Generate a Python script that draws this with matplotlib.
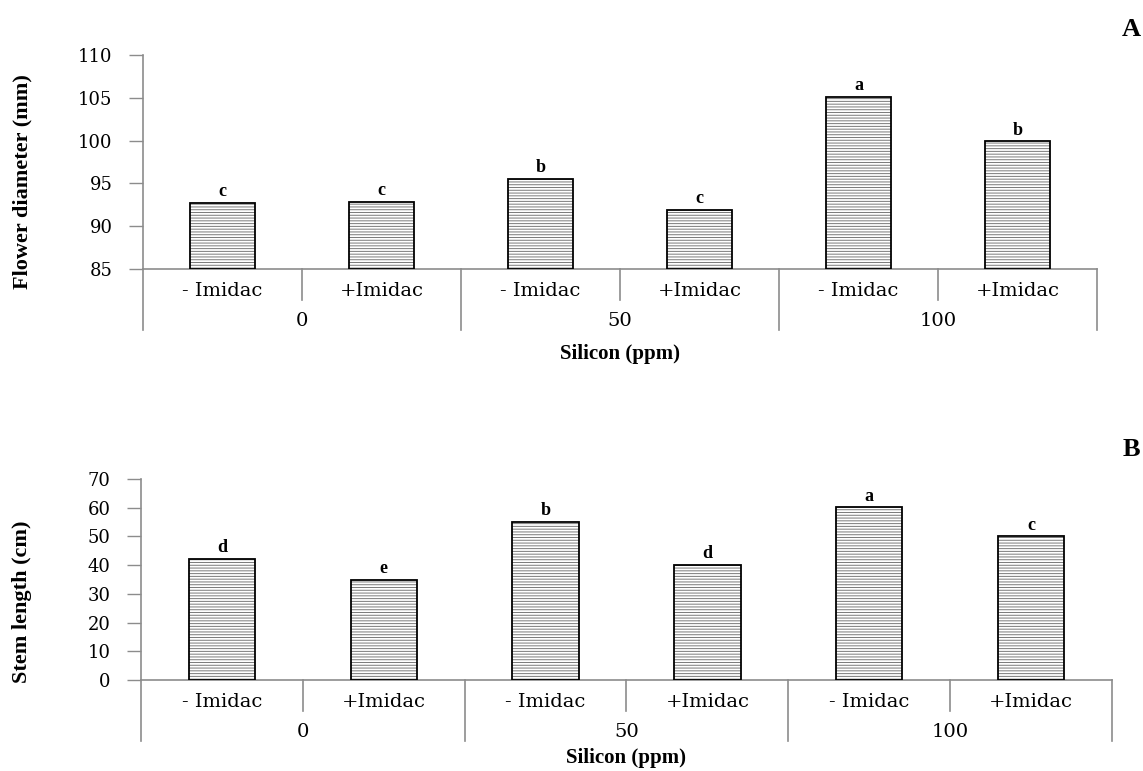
import numpy as np
import matplotlib.pyplot as plt

# data
treatments = ['- Imidac', '+Imidac', '- Imidac', '+Imidac', '- Imidac', '+Imidac']
silicon = ['0', '50', '100']
flower_diameter = [92.7, 92.8, 95.5, 91.9, 105.1, 99.9]
flower_letters = ['c', 'c', 'b', 'c', 'a', 'b']
stem_length = [42.2, 34.9, 55.0, 40.1, 60.1, 50.0]
stem_letters = ['d', 'e', 'b', 'd', 'a', 'c']

plt.rcParams['hatch.color'] = '#7a7a7a'
plt.rcParams['hatch.linewidth'] = 0.7

SERIF = 'Liberation Serif'
WIDE = 'DejaVu Serif'
GREY = '#8c8c8c'
W, H = 1143, 771

fig = plt.figure(figsize=(W / 100, H / 100), dpi=100)


def px_axes(left, right, top, bottom):
    return fig.add_axes([left / W, 1 - bottom / H, (right - left) / W, (bottom - top) / H])


def draw_panel(ax, values, letters, ylim, yticks, ylabel, label_x, label_y, ax_h,
               panel, panel_y, xlab_off):
    x = np.arange(len(values))
    base = ylim[0]
    heights = [v - base for v in values]
    ax.bar(x, heights, bottom=base, width=0.41, color='white', edgecolor='#7a7a7a',
           linewidth=0, hatch='------', zorder=2)
    ax.bar(x, heights, bottom=base, width=0.41, color='none', edgecolor='black',
           linewidth=1.3, zorder=3)
    for xi, v, t in zip(x, values, letters):
        ax.annotate(t, (xi, v), xytext=(0, 2), textcoords='offset points',
                    ha='center', va='bottom', fontsize=13, fontweight='bold', family=SERIF)

    ax.set_xlim(-0.5, len(values) - 0.5)
    ax.set_ylim(*ylim)
    ax.set_yticks(yticks)
    ax.set_yticklabels([str(t) for t in yticks], family=WIDE, fontsize=13)
    ax.tick_params(axis='y', direction='out', length=10, width=1, color=GREY, pad=12)
    ax.set_xticks([])
    for s in ['top', 'right']:
        ax.spines[s].set_visible(False)
    ax.spines['left'].set_color(GREY)
    ax.spines['bottom'].set_color(GREY)
    ax.spines['left'].set_linewidth(1.2)
    ax.spines['bottom'].set_linewidth(1.2)

    ax.set_ylabel(ylabel, family=SERIF, fontweight='bold', fontsize=16)
    ax.yaxis.set_label_coords(label_x, label_y)

    def f(px):
        return -px / ax_h

    tr = ax.get_xaxis_transform()
    # category separators below the axis
    for xs in [0.5, 2.5, 4.5]:
        ax.plot([xs, xs], [0, f(31)], transform=tr, color=GREY, lw=1.2, clip_on=False)
    for xs in [-0.5, 1.5, 3.5, 5.5]:
        ax.plot([xs, xs], [0, f(61)], transform=tr, color=GREY, lw=1.2, clip_on=False)
    for xi, t in zip(x, treatments):
        ax.text(xi, f(22), t, transform=tr, ha='center', va='center', family=WIDE, fontsize=14)
    for gi, g in enumerate(silicon):
        ax.text(2 * gi + 0.5, f(52), g, transform=tr, ha='center', va='center',
                family=WIDE, fontsize=14)
    ax.text(2.5, f(xlab_off), 'Silicon (ppm)', transform=tr, ha='center', va='center',
            family=SERIF, fontweight='bold', fontsize=15)
    fig.text(1131 / W, 1 - panel_y / H, panel, ha='center', va='center',
             family=SERIF, fontweight='bold', fontsize=19)


ax1 = px_axes(143, 1097, 55, 269)
draw_panel(ax1, flower_diameter, flower_letters, (85, 110), [85, 90, 95, 100, 105, 110],
           'Flower diameter (mm)', -0.116, 0.41, 214, 'A', 30, 85)

ax2 = px_axes(141, 1112, 479, 680)
draw_panel(ax2, stem_length, stem_letters, (0, 70), [0, 10, 20, 30, 40, 50, 60, 70],
           'Stem length (cm)', -0.112, 0.39, 201, 'B', 450, 78)

fig.savefig('out.png', dpi=100, facecolor='white')
